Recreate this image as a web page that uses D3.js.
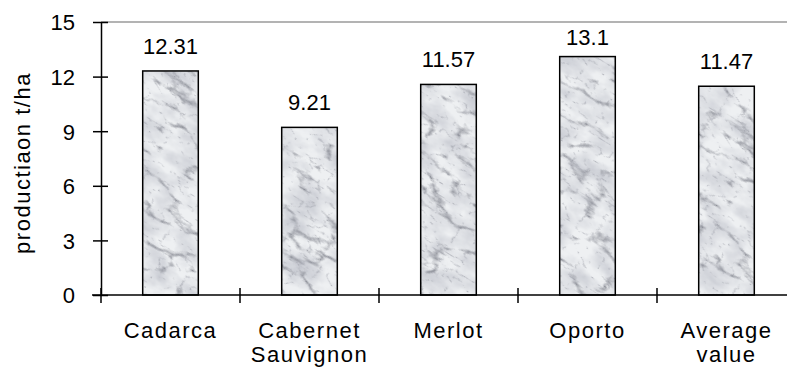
<!DOCTYPE html>
<html>
<head>
<meta charset="utf-8">
<script src="https://cdn.jsdelivr.net/npm/d3@7/dist/d3.min.js"></script>
<style>
  html, body { margin: 0; padding: 0; background: #fff; }
  svg { display: block; font-family: "Liberation Sans", Arial, sans-serif; }
</style>
</head>
<body>
<svg id="chart" width="787" height="371"></svg>
<script>
// ---- data ----
const categories = ["Cadarca", "Cabernet Sauvignon", "Merlot", "Oporto", "Average value"];
const categoryLines = [["Cadarca"], ["Cabernet", "Sauvignon"], ["Merlot"], ["Oporto"], ["Average", "value"]];
const values = [12.31, 9.21, 11.57, 13.1, 11.47];
const valueLabels = ["12.31", "9.21", "11.57", "13.1", "11.47"];
const yTicks = [0, 3, 6, 9, 12, 15];
const yTitle = "productiaon t/ha";

(function () {
// ---- layout ----
const W = 787, H = 371;
const mLeft = 101, mRight = 796, mTop = 22, mBottom = 295;

const svg = d3.select("#chart");

// marble texture
const defs = svg.append("defs");
const f = defs.append("filter").attr("id", "mf")
  .attr("x", 0).attr("y", 0).attr("width", 1).attr("height", 1)
  .attr("color-interpolation-filters", "sRGB");
f.append("feFlood").attr("flood-color", "#eef0f2").attr("result", "base");
f.append("feTurbulence").attr("type", "turbulence").attr("baseFrequency", "0.018 0.04")
  .attr("numOctaves", 5).attr("seed", 11).attr("stitchTiles", "stitch").attr("result", "t");
f.append("feColorMatrix").attr("in", "t").attr("type", "matrix")
  .attr("values", "0 0 0 0 0.45  0 0 0 0 0.46  0 0 0 0 0.50  -3.6 0 0 0 0.78").attr("result", "veins");
f.append("feTurbulence").attr("type", "turbulence").attr("baseFrequency", "0.05 0.09")
  .attr("numOctaves", 3).attr("seed", 23).attr("stitchTiles", "stitch").attr("result", "t2");
f.append("feColorMatrix").attr("in", "t2").attr("type", "matrix")
  .attr("values", "0 0 0 0 0.55  0 0 0 0 0.56  0 0 0 0 0.60  -4 0 0 0 0.55").attr("result", "veins2");
f.append("feTurbulence").attr("type", "fractalNoise").attr("baseFrequency", "0.03 0.05")
  .attr("numOctaves", 4).attr("seed", 4).attr("stitchTiles", "stitch").attr("result", "m");
f.append("feColorMatrix").attr("in", "m").attr("type", "matrix")
  .attr("values", "0 0 0 0 0.78  0 0 0 0 0.79  0 0 0 0 0.82  1.8 0 0 0 -0.6").attr("result", "blot");
f.append("feMerge").selectAll("feMergeNode").data(["base", "blot", "veins2", "veins"]).join("feMergeNode")
  .attr("in", d => d);

const pat = defs.append("pattern").attr("id", "marble")
  .attr("patternUnits", "userSpaceOnUse").attr("width", 256).attr("height", 256)
  .attr("patternTransform", "rotate(32)");
pat.append("rect").attr("width", 256).attr("height", 256).attr("filter", "url(#mf)");

// ---- scales ----
const x = d3.scaleBand().domain(categories).range([mLeft, mRight])
  .paddingInner(0.6).paddingOuter(0.3);
const y = d3.scaleLinear().domain([0, 15]).range([mBottom, mTop]);

// top border of plot area
svg.append("line")
  .attr("x1", mLeft).attr("x2", W).attr("y1", y(15)).attr("y2", y(15))
  .attr("stroke", "#9a9a9a").attr("stroke-width", 1.5);

// bars
svg.append("g").selectAll("rect").data(values).join("rect")
  .attr("x", (d, i) => x(categories[i]))
  .attr("y", d => y(d))
  .attr("width", x.bandwidth())
  .attr("height", d => y(0) - y(d))
  .attr("fill", "url(#marble)")
  .attr("stroke", "#000").attr("stroke-width", 1.5);

// value labels
svg.append("g").selectAll("text").data(values).join("text")
  .attr("x", (d, i) => x(categories[i]) + x.bandwidth() / 2)
  .attr("y", d => Math.max(y(d) - 17, y(15) + 23))
  .attr("text-anchor", "middle")
  .attr("font-size", 22)
  .text((d, i) => valueLabels[i]);

// y axis
const yAxis = d3.axisLeft(y).tickValues(yTicks).tickSize(0).tickPadding(26);
const gy = svg.append("g").attr("transform", `translate(${mLeft},0)`).call(yAxis);
gy.select(".domain").attr("stroke", "#000").attr("stroke-width", 1.5);
gy.selectAll(".tick text").attr("font-size", 22).attr("fill", "#000")
  .attr("font-family", "'Liberation Sans', Arial, sans-serif").attr("dy", "0.36em");
gy.selectAll(".tick").append("line")
  .attr("x1", -8).attr("x2", 7).attr("stroke", "#000").attr("stroke-width", 1.5);

// x axis
svg.append("line").attr("x1", mLeft - 9).attr("x2", W).attr("y1", mBottom).attr("y2", mBottom)
  .attr("stroke", "#000").attr("stroke-width", 1.5);
const bounds = categories.map(c => x(c) - x.step() * x.paddingOuter());
svg.append("g").selectAll("line").data(bounds).join("line")
  .attr("x1", d => d).attr("x2", d => d)
  .attr("y1", mBottom - 7).attr("y2", mBottom + 8)
  .attr("stroke", "#000").attr("stroke-width", 1.5);

// x labels
const gx = svg.append("g").selectAll("text").data(categoryLines).join("text")
  .attr("x", (d, i) => x(categories[i]) + x.bandwidth() / 2)
  .attr("y", 338)
  .attr("text-anchor", "middle")
  .attr("font-size", 22)
  .attr("letter-spacing", 1.5);
gx.selectAll("tspan").data(d => d).join("tspan")
  .attr("x", function () { return this.parentNode.getAttribute("x"); })
  .attr("dy", (d, j) => j === 0 ? 0 : 24)
  .text(d => d);

// y title
svg.append("text")
  .attr("transform", `translate(30,163) rotate(-90)`)
  .attr("text-anchor", "middle")
  .attr("font-size", 22)
  .attr("letter-spacing", 1.5)
  .text(yTitle);
})();
</script>
</body>
</html>
